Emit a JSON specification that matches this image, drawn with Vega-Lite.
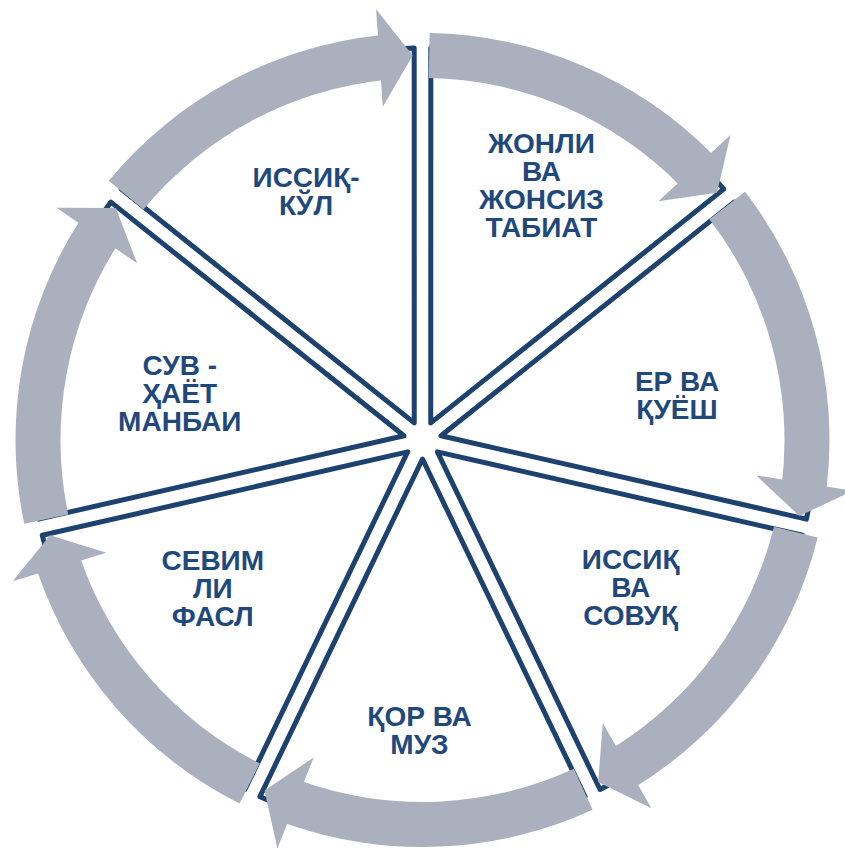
{
  "$schema": "https://vega.github.io/schema/vega-lite/v6.json",
  "width": 845,
  "height": 816,
  "padding": {"left": 0, "right": 0, "top": 32, "bottom": 0},
  "autosize": {"type": "none"},
  "background": "white",
  "config": {"view": {"stroke": null}, "text": {"font": "Liberation Sans", "fontWeight": "bold", "fontSize": 28, "lineHeight": 28, "lineBreak": "\n", "fill": "#1F497D", "align": "center", "baseline": "middle"}},
  "data": {
    "values": [
      {"i": 0, "label": "ЖОНЛИ\nВА\nЖОНСИЗ\nТАБИАТ", "share": 1},
      {"i": 1, "label": "ЕР ВА\nҚУЁШ", "share": 1},
      {"i": 2, "label": "ИССИҚ\nВА\nСОВУҚ", "share": 1},
      {"i": 3, "label": "ҚОР ВА\nМУЗ", "share": 1},
      {"i": 4, "label": "СЕВИМ\nЛИ\nФАСЛ", "share": 1},
      {"i": 5, "label": "СУВ -\nҲАЁТ\nМАНБАИ", "share": 1},
      {"i": 6, "label": "ИССИҚ-\nКЎЛ", "share": 1}
    ]
  },
  "layer": [
    {
      "mark": {"type": "arc", "innerRadius": 19, "outerRadius": 392, "padAngle": 0.0423, "fill": "white", "stroke": "#1D426F", "strokeWidth": 5, "strokeJoin": "round"},
      "encoding": {
        "theta": {"field": "share", "type": "quantitative", "stack": true},
        "order": {"field": "i", "type": "quantitative"}
      }
    },
    {
      "data": {
        "values": [
          {"seg": 0, "a0": 1.0, "a1": 45.43},
          {"seg": 1, "a0": 52.43, "a1": 96.86},
          {"seg": 2, "a0": 103.86, "a1": 148.29},
          {"seg": 3, "a0": 155.29, "a1": 199.71},
          {"seg": 4, "a0": 206.71, "a1": 251.14},
          {"seg": 5, "a0": 258.14, "a1": 302.57},
          {"seg": 6, "a0": 309.57, "a1": 354.0}
        ]
      },
      "mark": {"type": "arc", "innerRadius": 362, "outerRadius": 407, "fill": "#ABB0BE"},
      "encoding": {
        "theta": {"field": "a0", "type": "quantitative", "scale": {"domain": [0, 360]}},
        "theta2": {"field": "a1"}
      }
    },
    {
      "data": {
        "values": [
          {"seg": 0, "x": -6.75, "y": 97.77, "rot": 356.05},
          {"seg": 1, "x": 72.24, "y": 66.22, "rot": 47.48},
          {"seg": 2, "x": 96.82, "y": -15.18, "rot": 98.91},
          {"seg": 3, "x": 48.50, "y": -85.16, "rot": 150.34},
          {"seg": 4, "x": -36.34, "y": -91.01, "rot": 201.76},
          {"seg": 5, "x": -93.81, "y": -28.34, "rot": 253.19},
          {"seg": 6, "x": -80.66, "y": 55.66, "rot": 304.62}
        ]
      },
      "mark": {"type": "point", "shape": "M -0.34 -1 L 0.34 0 L -0.34 1 Z", "size": 9604, "filled": true, "color": "#ABB0BE", "fill": "#ABB0BE", "opacity": 1, "strokeWidth": 0},
      "encoding": {
        "x": {"field": "x", "type": "quantitative", "scale": {"domain": [-107.78, 107.78], "nice": false, "zero": false}, "axis": null},
        "y": {"field": "y", "type": "quantitative", "scale": {"domain": [-104.08, 104.08], "nice": false, "zero": false}, "axis": null},
        "angle": {"field": "rot", "type": "quantitative", "scale": null}
      }
    },
    {
      "mark": {"type": "text", "radius": 281, "dx": -3, "dy": -42},
      "encoding": {
        "theta": {"field": "share", "type": "quantitative", "stack": true},
        "order": {"field": "i", "type": "quantitative"},
        "text": {"condition": {"test": "datum.i === 0", "field": "label"}, "value": ""}
      }
    },
    {
      "mark": {"type": "text", "radius": 258, "dx": 3, "dy": 0},
      "encoding": {
        "theta": {"field": "share", "type": "quantitative", "stack": true},
        "order": {"field": "i", "type": "quantitative"},
        "text": {"condition": {"test": "datum.i === 1", "field": "label"}, "value": ""}
      }
    },
    {
      "mark": {"type": "text", "radius": 256, "dx": 8, "dy": -39},
      "encoding": {
        "theta": {"field": "share", "type": "quantitative", "stack": true},
        "order": {"field": "i", "type": "quantitative"},
        "text": {"condition": {"test": "datum.i === 2", "field": "label"}, "value": ""}
      }
    },
    {
      "mark": {"type": "text", "radius": 292, "dx": -3, "dy": -14},
      "encoding": {
        "theta": {"field": "share", "type": "quantitative", "stack": true},
        "order": {"field": "i", "type": "quantitative"},
        "text": {"condition": {"test": "datum.i === 3", "field": "label"}, "value": ""}
      }
    },
    {
      "mark": {"type": "text", "radius": 258, "dx": -8, "dy": -39},
      "encoding": {
        "theta": {"field": "share", "type": "quantitative", "stack": true},
        "order": {"field": "i", "type": "quantitative"},
        "text": {"condition": {"test": "datum.i === 4", "field": "label"}, "value": ""}
      }
    },
    {
      "mark": {"type": "text", "radius": 247, "dx": -2, "dy": -18},
      "encoding": {
        "theta": {"field": "share", "type": "quantitative", "stack": true},
        "order": {"field": "i", "type": "quantitative"},
        "text": {"condition": {"test": "datum.i === 5", "field": "label"}, "value": ""}
      }
    },
    {
      "mark": {"type": "text", "radius": 273, "dx": 2, "dy": -15},
      "encoding": {
        "theta": {"field": "share", "type": "quantitative", "stack": true},
        "order": {"field": "i", "type": "quantitative"},
        "text": {"condition": {"test": "datum.i === 6", "field": "label"}, "value": ""}
      }
    }
  ],
  "resolve": {"scale": {"theta": "independent"}}
}
